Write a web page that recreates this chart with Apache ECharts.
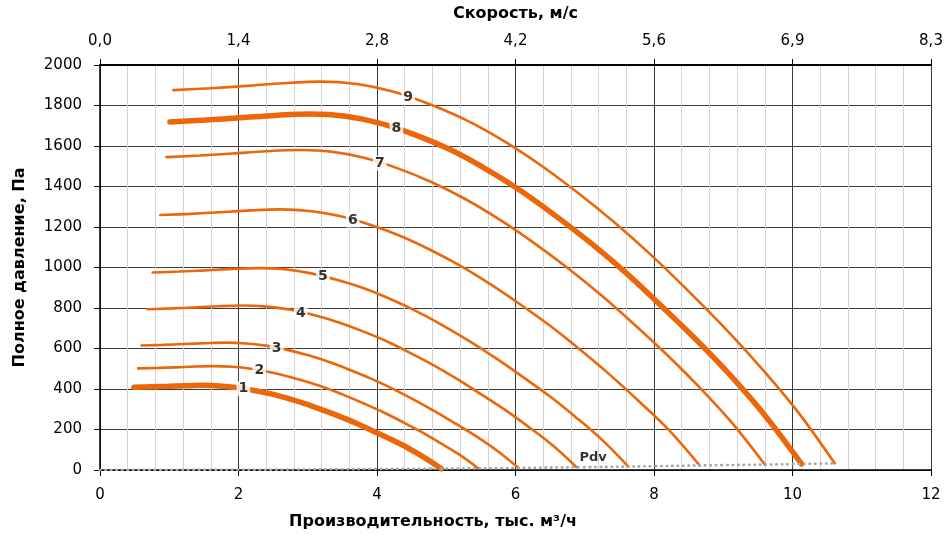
<!DOCTYPE html>
<html><head><meta charset="utf-8">
<script src="https://cdn.jsdelivr.net/npm/echarts@6/dist/echarts.min.js"></script>
<style>html,body{margin:0;padding:0;background:#fff}#c{width:948px;height:535px}</style>
</head><body><div id="c"></div>
<script>
// Flow (тыс. м3/ч)
const flow1 = [0.49,0.74,0.99,1.23,1.48,1.73,1.97,2.22,2.47,2.71,2.96,3.20,3.45,3.70,3.94,4.19,4.44,4.68,4.93];
const flow2 = [0.55,0.82,1.09,1.37,1.64,1.91,2.18,2.46,2.73,3.00,3.28,3.55,3.82,4.10,4.37,4.64,4.91,5.19,5.46];
const flow3 = [0.60,0.91,1.21,1.51,1.81,2.11,2.42,2.72,3.02,3.32,3.62,3.93,4.23,4.53,4.83,5.13,5.44,5.74,6.04];
const flow4 = [0.69,1.03,1.38,1.72,2.06,2.41,2.75,3.10,3.44,3.78,4.13,4.47,4.82,5.16,5.50,5.85,6.19,6.54,6.88];
const flow5 = [0.76,1.14,1.53,1.91,2.29,2.67,3.05,3.43,3.82,4.20,4.58,4.96,5.34,5.72,6.10,6.49,6.87,7.25,7.63];
const flow6 = [0.87,1.30,1.73,2.17,2.60,3.03,3.46,3.90,4.33,4.76,5.20,5.63,6.06,6.50,6.93,7.36,7.79,8.23,8.66];
const flow7 = [0.96,1.44,1.92,2.40,2.88,3.36,3.84,4.32,4.80,5.28,5.76,6.24,6.72,7.20,7.68,8.16,8.64,9.12,9.60];
const flow8 = [1.01,1.52,2.03,2.53,3.04,3.55,4.05,4.56,5.07,5.57,6.08,6.58,7.09,7.60,8.10,8.61,9.12,9.62,10.13];
const flow9 = [1.06,1.59,2.12,2.65,3.18,3.71,4.24,4.77,5.31,5.84,6.37,6.90,7.43,7.96,8.49,9.02,9.55,10.08,10.61];
// Total pressure (Па)
const pres1 = [409,411,413,416,418,415,407,393,376,354,328,298,266,231,193,153,110,62,6];
const pres2 = [502,504,507,511,513,510,500,483,461,434,402,366,327,284,237,188,134,76,9];
const pres3 = [615,618,622,626,629,625,613,592,565,532,493,449,401,348,291,230,165,94,11];
const pres4 = [794,798,803,809,812,807,791,764,730,687,637,580,517,449,375,297,213,121,14];
const pres5 = [975,980,986,993,997,991,971,938,896,843,782,712,635,551,461,365,261,149,17];
const pres6 = [1259,1265,1273,1282,1287,1279,1254,1211,1157,1089,1009,919,820,712,595,471,337,192,22];
const pres7 = [1545,1553,1563,1574,1580,1571,1539,1487,1420,1337,1239,1128,1006,874,730,578,414,235,27];
const pres8 = [1719,1728,1739,1751,1758,1747,1712,1654,1580,1487,1378,1255,1120,972,812,643,461,262,30];
const pres9 = [1876,1885,1897,1910,1918,1906,1868,1805,1724,1623,1504,1369,1222,1061,886,702,503,286,33];
// Dynamic pressure Pdv
const pdvFlow = [0,2,4,4.93,6,7,8,9,10,10.61];
const pdvPres = [0,1,5,7,10,14,19,24,29,33];
const curveNames = ['1','2','3','4','5','6','7','8','9'];
const labelFlow = [2.07,2.30,2.55,2.90,3.22,3.65,4.04,4.28,4.45];
const labelPres = [402,491,603,775,955,1235,1515,1686,1840];
const pdvLabel = [[7.12,60]];
const bottomTicks = [0,2,4,6,8,10,12];
const topTickLabels = ['0,0','1,4','2,8','4,2','5,6','6,9','8,3'];

const ORANGE = '#EB6709';
const FONT = 'DejaVu Sans';
const flows = [flow1,flow2,flow3,flow4,flow5,flow6,flow7,flow8,flow9];
const press = [pres1,pres2,pres3,pres4,pres5,pres6,pres7,pres8,pres9];
const thick = [true,false,false,false,false,false,false,true,false];
const zip = (a,b)=>a.map((v,i)=>[v,b[i]]);

const series = flows.map((f,i)=>({
  type:'line', name:curveNames[i], data:zip(f,press[i]), showSymbol:false, smooth:0.35,
  lineStyle:{color:ORANGE, width: thick[i]?5.5:2.6, cap:'round'}, z:3, silent:true
}));
series.unshift({
  type:'line', name:'Pdv', data:zip(pdvFlow,pdvPres), showSymbol:false, smooth:true,
  lineStyle:{color:'#a6a6a6', width:2.6, type:[0.5,5], cap:'round'}, z:4, silent:true
});
series.push({
  type:'scatter', data:zip(labelFlow,labelPres), symbolSize:0.1, itemStyle:{color:'rgba(0,0,0,0)'}, z:10,
  label:{show:true, position:'inside', formatter:p=>curveNames[p.dataIndex], color:'#000',
    fontFamily:FONT, fontWeight:'bold', fontSize:14, backgroundColor:'#fff', padding:[1,2,0,2]}
});
series.push({
  type:'scatter', data:pdvLabel, symbolSize:0.1, itemStyle:{color:'rgba(0,0,0,0)'}, z:10,
  label:{show:true, position:'inside', formatter:'Pdv', color:'#000',
    fontFamily:FONT, fontWeight:'bold', fontSize:13}
});

const chart = echarts.init(document.getElementById('c'), null, {renderer:'canvas'});
chart.setOption({
  animation:false,
  backgroundColor:'#fff',
  textStyle:{fontFamily:FONT},
  grid:{left:100, right:17, top:65, bottom:65, containLabel:false},
  xAxis:[{
    type:'value', position:'bottom', min:0, max:12, interval:2,
    name:'Производительность, тыс. м³/ч', nameLocation:'middle', nameGap:44,
    nameTextStyle:{fontFamily:FONT, fontWeight:'bold', fontSize:16, color:'#000', padding:[0,165,0,0]},
    axisLine:{show:true, onZero:false, lineStyle:{color:'#000', width:1.5}},
    axisTick:{show:true, inside:false, length:6, lineStyle:{color:'#000'}},
    axisLabel:{margin:18, fontFamily:FONT, fontSize:15, color:'#000',
      formatter:v=>String(bottomTicks[Math.round(v/2)])},
    splitLine:{show:true, lineStyle:{color:'#3a3a3a', width:1}},
    minorTick:{show:false, splitNumber:5},
    minorSplitLine:{show:true, lineStyle:{color:'#d4d4d4', width:1}}
  },{
    type:'value', position:'top', min:0, max:12, interval:2,
    name:'Скорость, м/с', nameLocation:'middle', nameGap:43,
    nameTextStyle:{fontFamily:FONT, fontWeight:'bold', fontSize:16, color:'#000'},
    axisLine:{show:true, onZero:false, lineStyle:{color:'#000', width:2}},
    axisTick:{show:true, inside:false, length:6, lineStyle:{color:'#000'}},
    axisLabel:{margin:16, fontFamily:FONT, fontSize:15, color:'#000',
      formatter:v=>topTickLabels[Math.round(v/2)]},
    splitLine:{show:false}
  }],
  yAxis:{
    type:'value', min:0, max:2000, interval:200,
    name:'Полное давление, Па', nameLocation:'middle', nameGap:72, nameRotate:90,
    nameTextStyle:{fontFamily:FONT, fontWeight:'bold', fontSize:16, color:'#000'},
    axisLine:{show:true, onZero:false, lineStyle:{color:'#000', width:1.5}},
    axisTick:{show:true, inside:false, length:6, lineStyle:{color:'#000'}},
    axisLabel:{margin:18, fontFamily:FONT, fontSize:15, color:'#000', formatter:v=>String(v)},
    splitLine:{show:true, lineStyle:{color:'#3a3a3a', width:1}}
  },
  series:series
});
</script>
</body></html>
